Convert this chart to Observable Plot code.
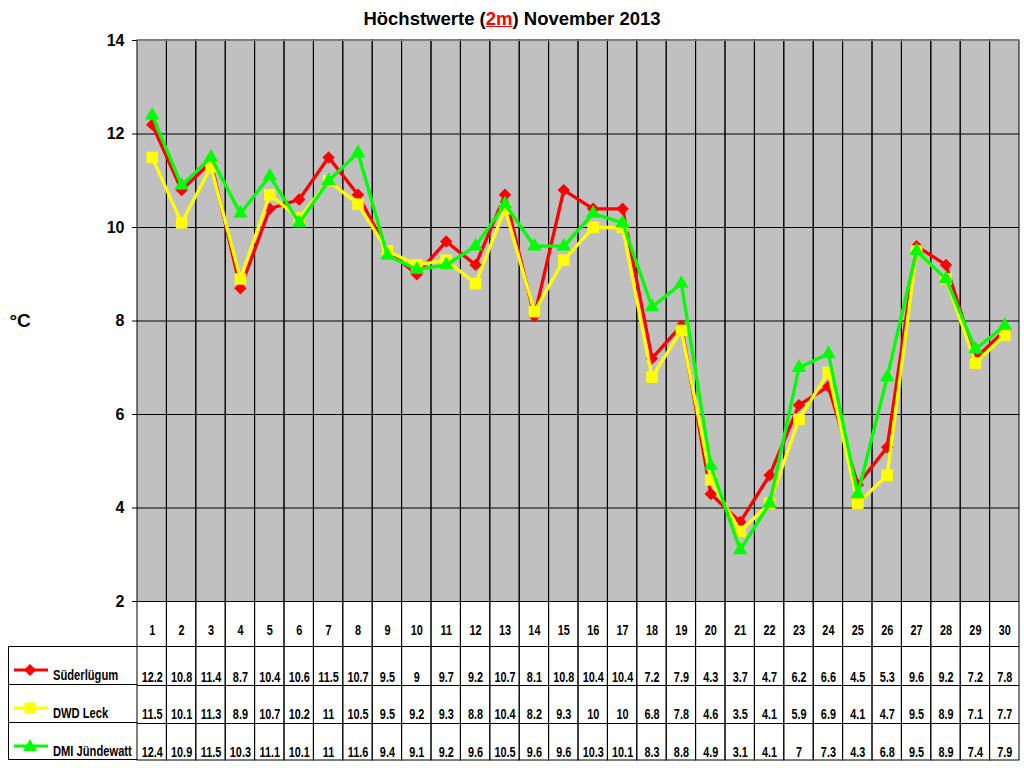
<!DOCTYPE html>
<html><head><meta charset="utf-8">
<script src="https://cdn.jsdelivr.net/npm/d3@7"></script>
<script src="https://cdn.jsdelivr.net/npm/@observablehq/plot@0.6"></script>
<style>
body{margin:0;background:#fff;font-family:Arial,"Liberation Sans",sans-serif;}
#title{height:30px;box-sizing:border-box;padding-top:8px;text-align:center;font-weight:bold;font-size:18.5px;line-height:22px;color:#000;}
#title span{color:#f00;text-decoration:underline;}
#wrap{position:relative;width:1024px;height:738px;}
#legend{position:absolute;left:8px;top:616px;width:129px;}
#legend .row{position:relative;height:38px;border-top:1px solid #000;border-left:1px solid #000;box-sizing:border-box;}
#legend .row:last-child{border-bottom:1px solid #000;height:38px;}
#legend svg{position:absolute;left:4px;top:15px;}
#legend .lab{position:absolute;left:44px;top:20px;font-weight:bold;font-size:14.5px;white-space:nowrap;transform:scaleX(0.77);transform-origin:left center;}
</style></head><body>
<div id="title">Höchstwerte (<span>2m</span>) November 2013</div>
<div id="wrap"><div id="chart"></div><div id="legend"></div></div>
<script>
const days = [1,2,3,4,5,6,7,8,9,10,11,12,13,14,15,16,17,18,19,20,21,22,23,24,25,26,27,28,29,30];
const suederluegum = [12.2,10.8,11.4,8.7,10.4,10.6,11.5,10.7,9.5,9,9.7,9.2,10.7,8.1,10.8,10.4,10.4,7.2,7.9,4.3,3.7,4.7,6.2,6.6,4.5,5.3,9.6,9.2,7.2,7.8];
const dwdLeck = [11.5,10.1,11.3,8.9,10.7,10.2,11,10.5,9.5,9.2,9.3,8.8,10.4,8.2,9.3,10,10,6.8,7.8,4.6,3.5,4.1,5.9,6.9,4.1,4.7,9.5,8.9,7.1,7.7];
const dmiJuendewatt = [12.4,10.9,11.5,10.3,11.1,10.1,11,11.6,9.4,9.1,9.2,9.6,10.5,9.6,9.6,10.3,10.1,8.3,8.8,4.9,3.1,4.1,7,7.3,4.3,6.8,9.5,8.9,7.4,7.9];
const yTicks = [2,4,6,8,10,12,14];
const seriesNames = ["Süderlügum","DWD Leck","DMI Jündewatt"];
const seriesColors = ["#ff0000","#ffff00","#00ff00"];
const seriesSymbols = ["diamond2","square","triangle"];
const seriesR = [5.6,6.5,5.4];
const seriesValues = [suederluegum, dwdLeck, dmiJuendewatt];

const rows = seriesValues.map((vals,i)=>vals.map((v,j)=>({day:days[j], v, s:seriesNames[i]})));
const rowDy = [76,113,151];
const tableFont = 14.5;

const marks = [
  Plot.barY(days,{x:d=>d, y1:2, y2:14, fill:"#c0c0c0"}),
  Plot.ruleY(yTicks,{stroke:"#000"}),
  Plot.barY(days,{x:d=>d, y1:2, y2:14, fill:"none", stroke:"#000", insetBottom:-159}),
  Plot.ruleY([14],{stroke:"#808080"}),
  Plot.ruleY([2],{dy:45, stroke:"#000"}),
  Plot.ruleY([2],{dy:84, stroke:"#000"}),
  Plot.ruleY([2],{dy:122, stroke:"#000"}),
  Plot.text(days,{x:d=>d, y:2, dy:29, text:d=>String(d), fontSize:tableFont, fontWeight:"bold", lineAnchor:"middle"}),
  Plot.text(["°C"],{frameAnchor:"left", dx:-128, text:d=>d, textAnchor:"start", fontSize:19, fontWeight:"bold"})
];
rows.forEach((r,i)=>{
  marks.push(Plot.line(r,{x:"day", y:"v", stroke:seriesColors[i], strokeWidth:3.3}));
  marks.push(Plot.dot(r,{x:"day", y:"v", symbol:seriesSymbols[i], r:seriesR[i], fill:seriesColors[i], stroke:"none"}));
  marks.push(Plot.text(r,{x:"day", y:2, dy:rowDy[i], text:d=>String(d.v), fontSize:tableFont, fontWeight:"bold", lineAnchor:"middle"}));
});

const chart = Plot.plot({
  width:1024, height:738,
  marginLeft:137, marginRight:5, marginTop:10, marginBottom:167,
  style:{background:"#fff", fontFamily:"Arial, 'Liberation Sans', sans-serif", fontSize:"16px", fontWeight:"bold", color:"#000", overflow:"visible"},
  x:{type:"band", domain:days, padding:0, round:false, axis:null},
  y:{domain:[2,14], ticks:yTicks, tickSize:5, tickPadding:8, label:null, tickFormat:d=>String(d)},
  marks
});
// condense table text horizontally around each text's anchor point
d3.select(chart).selectAll(`g[font-size="${tableFont}"] text`).each(function(){
  const t = this.getAttribute("transform") || "";
  this.setAttribute("transform", t + " scale(0.75,1)");
});
document.getElementById("chart").appendChild(chart);

const leg = document.getElementById("legend");
seriesNames.forEach((n,i)=>{
  const row = document.createElement("div");
  row.className="row";
  let shape="";
  const c=seriesColors[i];
  if(seriesSymbols[i]==="diamond2") shape=`<polygon points="17,2 23,8 17,14 11,8" fill="${c}"/>`;
  else if(seriesSymbols[i]==="square") shape=`<rect x="11.5" y="2.5" width="11" height="11" fill="${c}"/>`;
  else shape=`<polygon points="17,1 24,13 10,13" fill="${c}"/>`;
  row.innerHTML=`<svg width="36" height="16"><line x1="1" x2="35" y1="8" y2="8" stroke="${c}" stroke-width="3.2"/>${shape}</svg><div class="lab">${n}</div>`;
  leg.appendChild(row);
});
</script>
</body></html>
